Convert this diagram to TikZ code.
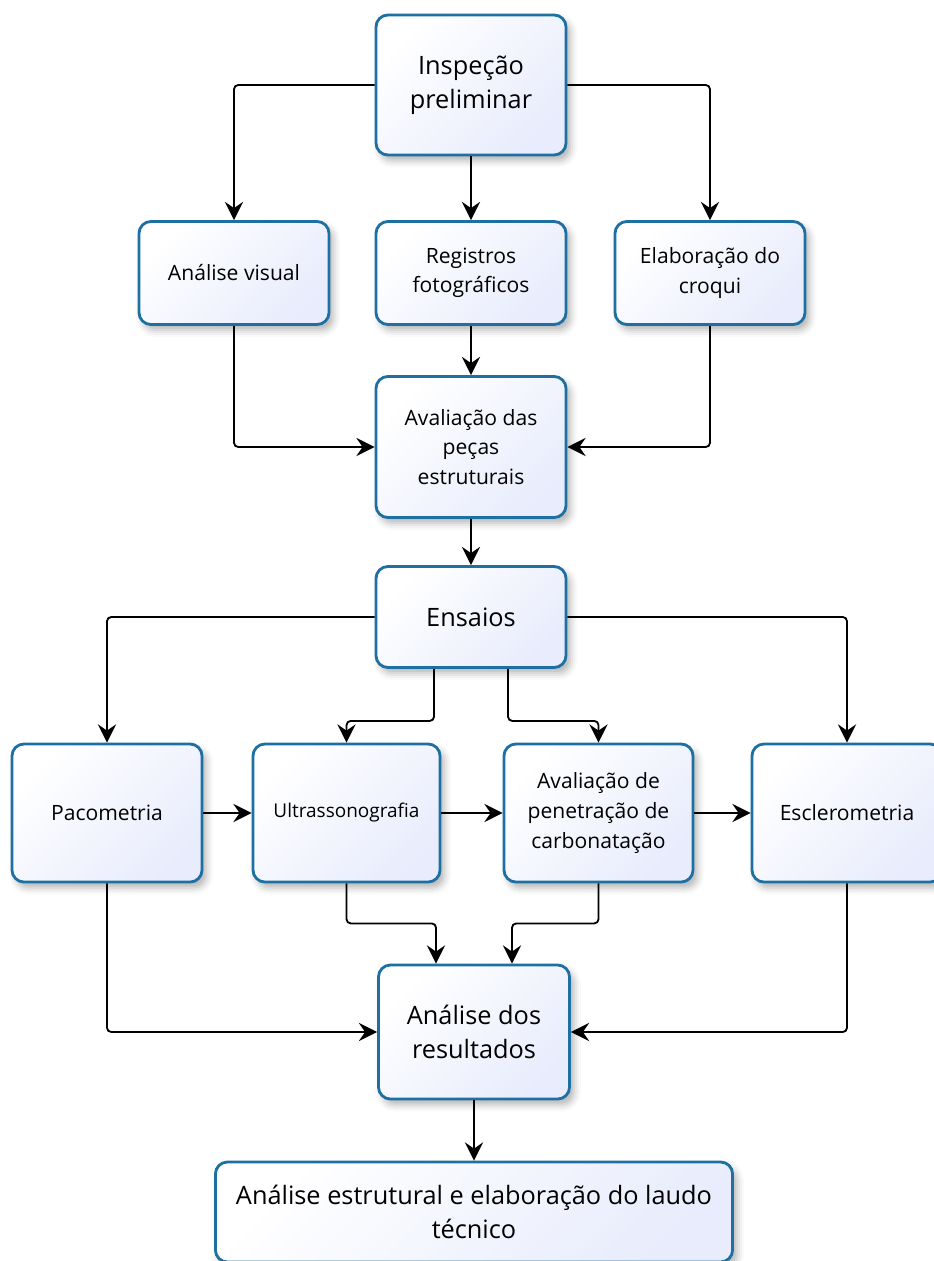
\documentclass[tikz,border=0pt]{standalone}
\usepackage{fontspec}
\setmainfont{Open Sans}
\usetikzlibrary{arrows.meta,calc,shadows.blur}
\definecolor{boxline}{RGB}{30,112,162}
\definecolor{boxfill}{RGB}{232,236,252}
\tikzset{
  etapa/.style={draw=boxline, line width=2pt, rounded corners=8.5pt,
    top color=white, bottom color=boxfill, shading angle=45,
    blur shadow={shadow xshift=3pt, shadow yshift=-4pt, shadow blur radius=5pt, shadow opacity=30},
    align=center, inner sep=0pt, minimum width=4.75cm, minimum height=2.575cm,
    font=\fontsize{15}{21}\selectfont},
  grande/.style={font=\fontsize{18}{24}\selectfont},
  liga/.style={line width=1.3pt, rounded corners=3pt, -{Stealth[length=13pt,width=13pt,inset=4.5pt]}}
}
\begin{document}
\begin{tikzpicture}[x=0.025cm, y=-0.025cm]
    \useasboundingbox (0,0) rectangle (933,1261);
    % etapas
    \node [etapa, grande, minimum height=3.5cm] (insp) at (471,85) {Inspeção\\preliminar};
    \node [etapa] (visual) at (234,273) {Análise visual};
    \node [etapa] (reg) at (471,273) {Registros\\fotográficos};
    \node [etapa] (croqui) at (710,273) {Elaboração do\\croqui};
    \node [etapa, minimum height=3.525cm] (aval) at (471,447) {Avaliação das\\peças\\estruturais};
    \node [etapa, grande, minimum height=2.525cm] (ens) at (471,617) {Ensaios};
    \node [etapa, minimum height=3.45cm] (paco) at (107,813) {Pacometria};
    \node [etapa, minimum width=4.675cm, minimum height=3.45cm, font=\fontsize{13.5}{19}\selectfont] (ultra) at (346.5,813) {Ultrassonografia};
    \node [etapa, minimum width=4.725cm, minimum height=3.45cm] (carb) at (598.5,813) {Avaliação de\\penetração de\\carbonatação};
    \node [etapa, minimum height=3.45cm] (escl) at (847,813) {Esclerometria};
    \node [etapa, grande, minimum width=4.775cm, minimum height=3.35cm] (res) at (474,1032) {Análise dos\\resultados};
    \node [etapa, grande, minimum width=12.925cm, minimum height=2.5cm] (laudo) at (474,1212) {Análise estrutural e elaboração do laudo\\técnico};
    % ligacoes
    \draw [liga] (insp.west) -| (visual.north);
    \draw [liga] (insp.south) -- (reg.north);
    \draw [liga] (insp.east) -| (croqui.north);
    \draw [liga] (visual.south) |- (aval.west);
    \draw [liga] (reg.south) -- (aval.north);
    \draw [liga] (croqui.south) |- (aval.east);
    \draw [liga] (aval.south) -- (ens.north);
    \draw [liga] (ens.west) -| (paco.north);
    \draw [liga] (ens.east) -| (escl.north);
    \draw [liga] ($(ens.south)+(-37,0)$) -- ++(0,52) -| (ultra.north);
    \draw [liga] ($(ens.south)+(37,0)$) -- ++(0,52) -| (carb.north);
    \draw [liga] (paco.east) -- (ultra.west);
    \draw [liga] (ultra.east) -- (carb.west);
    \draw [liga] (carb.east) -- (escl.west);
    \draw [liga] (paco.south) |- (res.west);
    \draw [liga] (escl.south) |- (res.east);
    \draw [liga] (ultra.south) -- ++(0,40) -| ($(res.north)+(-38,0)$);
    \draw [liga] (carb.south) -- ++(0,40) -| ($(res.north)+(38,0)$);
    \draw [liga] (res.south) -- (laudo.north);
\end{tikzpicture}
\end{document}
